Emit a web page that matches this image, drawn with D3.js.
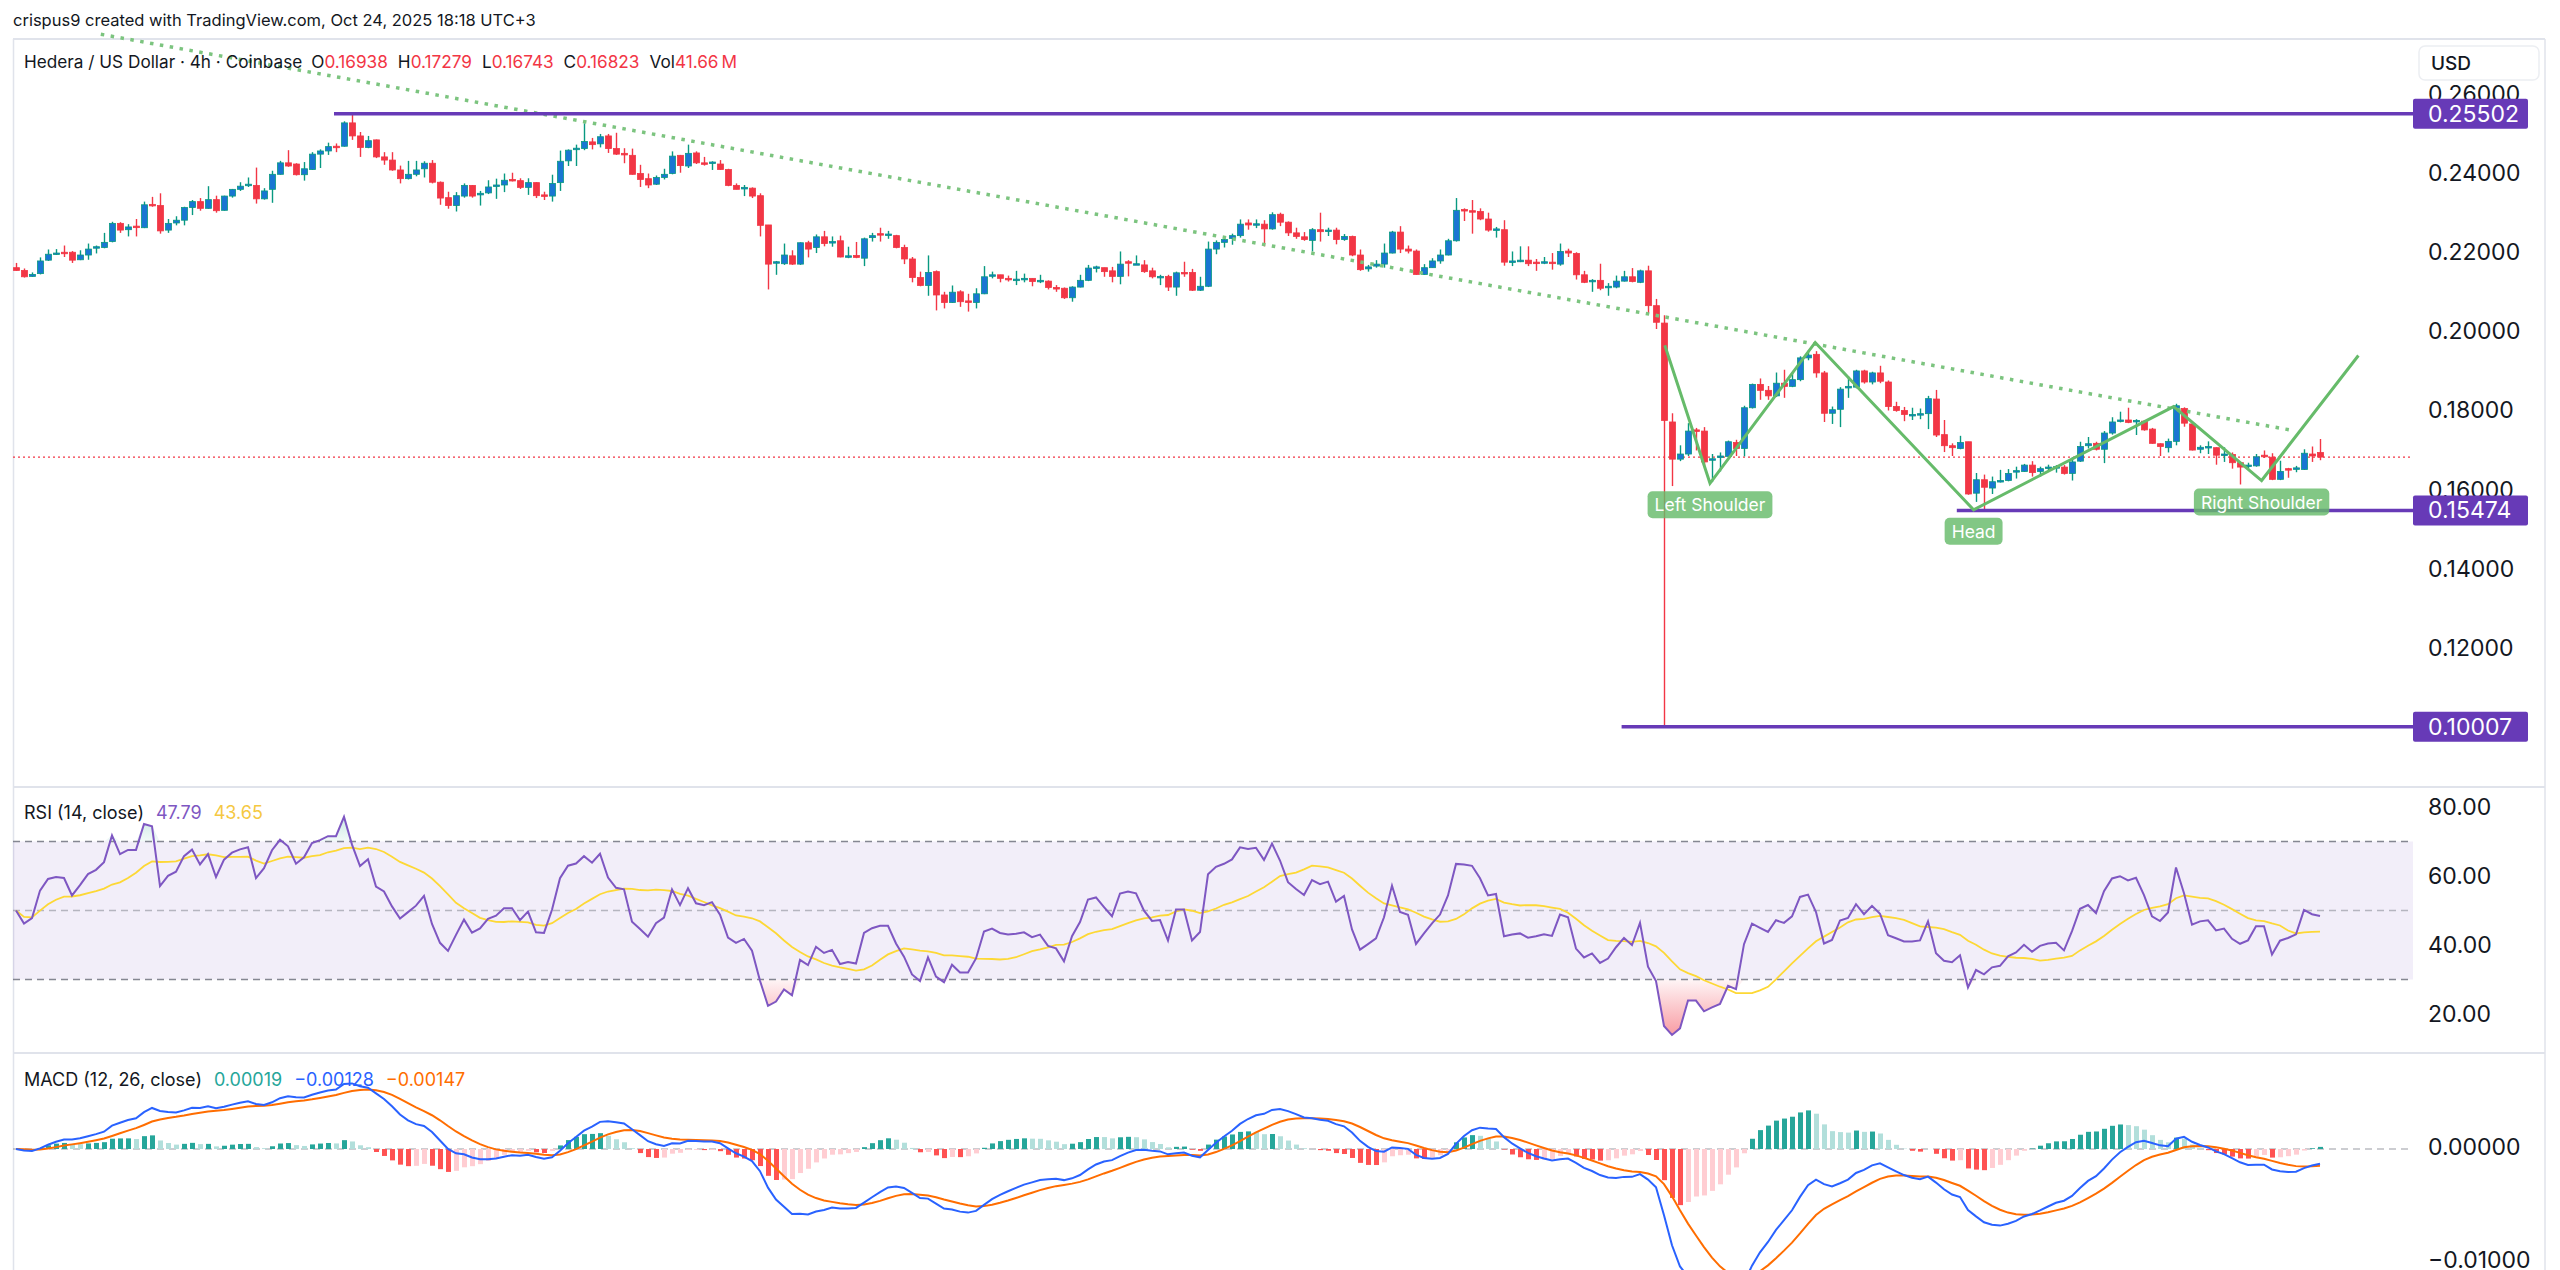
<!DOCTYPE html>
<html>
<head>
<meta charset="utf-8">
<script src="https://cdn.jsdelivr.net/npm/d3@7"></script>
<style>
  body { margin: 0; background: #fff; }
  svg { display: block; font-family: Inter, "Noto Sans", sans-serif; }
</style>
</head>
<body>
<div id="chart"></div>
<script>
var width = 2560;
var height = 1270;

// 4h candles, HBAR/USD (Coinbase)
var opens = [.2161,.2154,.2139,.2146,.2180,.2195,.2200,.2200,.2181,.2193,.2212,.2212,.2227,.2273,.2257,.2266,.2262,.2321,.2318,.2256,
  .2274,.2281,.2313,.2328,.2311,.2333,.2306,.2342,.2359,.2370,.2369,.2335,.2359,.2397,.2426,.2423,.2396,.2409,.2448,.2456,
  .2468,.2468,.2527,.2494,.2465,.2484,.2441,.2433,.2408,.2386,.2397,.2411,.2425,.2377,.2338,.2318,.2342,.2369,.2345,.2350,
  .2367,.2370,.2384,.2381,.2364,.2376,.2345,.2342,.2376,.2431,.2462,.2462,.2479,.2474,.2494,.2462,.2450,.2445,.2399,.2386,
  .2372,.2389,.2399,.2445,.2418,.2451,.2426,.2426,.2423,.2409,.2369,.2360,.2362,.2343,.2269,.2173,.2171,.2191,.2170,.2224,
  .2212,.2239,.2225,.2229,.2190,.2192,.2185,.2237,.2247,.2244,.2242,.2212,.2183,.2136,.2116,.2151,.2092,.2073,.2100,.2077,
  .2073,.2095,.2141,.2143,.2134,.2129,.2131,.2134,.2127,.2127,.2111,.2109,.2085,.2112,.2129,.2160,.2161,.2153,.2139,.2176,
  .2170,.2168,.2153,.2138,.2139,.2112,.2149,.2149,.2104,.2114,.2208,.2225,.2235,.2242,.2274,.2271,.2271,.2259,.2296,.2276,
  .2249,.2239,.2230,.2257,.2254,.2256,.2232,.2240,.2193,.2158,.2165,.2170,.2198,.2251,.2208,.2203,.2144,.2161,.2178,.2193,
  .2229,.2308,.2305,.2303,.2284,.2257,.2257,.2176,.2176,.2180,.2175,.2173,.2175,.2170,.2203,.2197,.2143,.2127,.2129,.2111,
  .2112,.2127,.2138,.2124,.2153,.2065,.2021,.1771,.1677,.1690,.1751,.1748,.1675,.1682,.1684,.1719,.1704,.1807,.1866,.1851,
  .1837,.1869,.1861,.1878,.1933,.1942,.1895,.1793,.1803,.1857,.1859,.1900,.1872,.1895,.1872,.1810,.1800,.1788,.1790,.1792,
  .1829,.1739,.1711,.1704,.1721,.1591,.1625,.1604,.1621,.1623,.1645,.1646,.1662,.1646,.1655,.1657,.1657,.1641,.1672,.1711,
  .1717,.1702,.1743,.1773,.1776,.1773,.1773,.1753,.1716,.1706,.1722,.1805,.1766,.1702,.1707,.1706,.1687,.1689,.1668,.1660,
  .1660,.1687,.1682,.1626,.1653,.1653,.1651,.1690,.16938];
var highs = [.2173,.2159,.2149,.2187,.2207,.2208,.2217,.2203,.2205,.2222,.2217,.2249,.2277,.2276,.2271,.2284,.2328,.2340,.2349,.2284,
  .2291,.2315,.2332,.2337,.2367,.2343,.2343,.2360,.2377,.2389,.2414,.2362,.2406,.2431,.2458,.2425,.2428,.2453,.2460,.2477,
  .2475,.2531,.25502,.2504,.2494,.2485,.2453,.2453,.2419,.2431,.2431,.2430,.2433,.2379,.2353,.2352,.2374,.2370,.2355,.2382,
  .2386,.2399,.2401,.2387,.2387,.2377,.2353,.2396,.2457,.2460,.2472,.2526,.2489,.2499,.2499,.2502,.2463,.2462,.2421,.2399,
  .2394,.2411,.2455,.2446,.2472,.2455,.2441,.2430,.2433,.2411,.2374,.2370,.2364,.2349,.2269,.2178,.2222,.2205,.2225,.2229,
  .2245,.2254,.2240,.2242,.2214,.2226,.2237,.2249,.2262,.2254,.2244,.2219,.2188,.2151,.2192,.2154,.2100,.2116,.2104,.2095,
  .2109,.2165,.2151,.2143,.2141,.2153,.2146,.2134,.2143,.2129,.2117,.2111,.2114,.2143,.2168,.2166,.2161,.2163,.2202,.2180,
  .2192,.2180,.2161,.2143,.2143,.2151,.2176,.2158,.2138,.2227,.2230,.2239,.2247,.2283,.2283,.2283,.2281,.2301,.2300,.2278,
  .2262,.2251,.2261,.2300,.2262,.2262,.2246,.2242,.2207,.2168,.2180,.2222,.2254,.2266,.2217,.2207,.2170,.2185,.2207,.2234,
  .2337,.2311,.2332,.2311,.2300,.2264,.2281,.2202,.2215,.2215,.2183,.2188,.2198,.2222,.2209,.2200,.2153,.2132,.2171,.2122,
  .2141,.2153,.2160,.2156,.2166,.2082,.2041,.1793,.1712,.1768,.1756,.1758,.1690,.1694,.1724,.1726,.1812,.1868,.1881,.1862,
  .1896,.1903,.1896,.1937,.1952,.1950,.1900,.1810,.1859,.1886,.1903,.1903,.1898,.1913,.1876,.1822,.1809,.1807,.1805,.1837,
  .1852,.1776,.1717,.1736,.1721,.1642,.1638,.1633,.1650,.1652,.1658,.1665,.1672,.1658,.1663,.1662,.1662,.1682,.1721,.1733,
  .1721,.1748,.1783,.1797,.1807,.1778,.1776,.1756,.1717,.1729,.1817,.1808,.1770,.1712,.1722,.1707,.1707,.1694,.1670,.1668,
  .1690,.1699,.1692,.1673,.1655,.1660,.1702,.1709,.17279];
var lows = [.2153,.2136,.2138,.2144,.2178,.2193,.2188,.2173,.2180,.2181,.2197,.2210,.2225,.2249,.2240,.2240,.2261,.2315,.2247,.2249,
  .2268,.2268,.2294,.2305,.2310,.2300,.2305,.2338,.2355,.2365,.2323,.2333,.2325,.2396,.2416,.2394,.2381,.2408,.2413,.2446,
  .2453,.2467,.2484,.2441,.2463,.2438,.2421,.2406,.2374,.2384,.2392,.2389,.2374,.2320,.2310,.2303,.2338,.2338,.2318,.2347,
  .2335,.2352,.2379,.2360,.2345,.2337,.2332,.2328,.2355,.2418,.2418,.2458,.2460,.2465,.2451,.2446,.2425,.2396,.2365,.2362,
  .2370,.2384,.2397,.2401,.2413,.2423,.2419,.2408,.2408,.2367,.2359,.2342,.2337,.2240,.2106,.2143,.2168,.2168,.2168,.2187,
  .2198,.2215,.2214,.2187,.2185,.2185,.2165,.2227,.2227,.2234,.2210,.2170,.2124,.2114,.2090,.2053,.2058,.2072,.2062,.2050,
  .2058,.2094,.2134,.2124,.2126,.2117,.2124,.2114,.2122,.2106,.2100,.2082,.2075,.2111,.2127,.2149,.2138,.2124,.2119,.2139,
  .2168,.2148,.2134,.2117,.2102,.2090,.2138,.2102,.2102,.2112,.2195,.2212,.2219,.2237,.2257,.2261,.2215,.2257,.2266,.2241,
  .2234,.2229,.2202,.2227,.2241,.2220,.2229,.2190,.2153,.2151,.2161,.2161,.2197,.2198,.2197,.2143,.2143,.2161,.2171,.2192,
  .2227,.2279,.2247,.2281,.2252,.2237,.2166,.2165,.2175,.2165,.2153,.2170,.2156,.2166,.2188,.2131,.2122,.2100,.2104,.2090,
  .2109,.2126,.2124,.2122,.2046,.2006,.10007,.1609,.1672,.1685,.1699,.1657,.1619,.1646,.1682,.1685,.1684,.1805,.1827,.1827,
  .1834,.1832,.1859,.1874,.1927,.1883,.1771,.1766,.1758,.1832,.1856,.1868,.1866,.1869,.1800,.1797,.1773,.1776,.1778,.1753,
  .1733,.1695,.1685,.1702,.1587,.1569,.15474,.1589,.1618,.1621,.1628,.1645,.1633,.1633,.1646,.1643,.1638,.1623,.1670,.1704,
  .1699,.1667,.1739,.1770,.1768,.1738,.1749,.1716,.1685,.1694,.1712,.1759,.1699,.1692,.1690,.1663,.1670,.1653,.1613,.1653,
  .1658,.1680,.1624,.1624,.1630,.1644,.1650,.1670,.16743];
var closes = [.2154,.2138,.2144,.2178,.2195,.2198,.2197,.2180,.2193,.2208,.2214,.2225,.2273,.2256,.2264,.2264,.2320,.2318,.2254,.2273,
  .2281,.2313,.2328,.2311,.2333,.2305,.2342,.2359,.2367,.2372,.2335,.2355,.2397,.2426,.2418,.2396,.2411,.2448,.2456,.2467,
  .2467,.2527,.2494,.2465,.2482,.2441,.2433,.2408,.2386,.2397,.2408,.2425,.2377,.2337,.2318,.2343,.2369,.2342,.2349,.2365,
  .2370,.2382,.2382,.2364,.2376,.2343,.2342,.2374,.2430,.2458,.2463,.2480,.2472,.2492,.2462,.2448,.2446,.2397,.2384,.2370,
  .2389,.2397,.2443,.2419,.2450,.2426,.2423,.2428,.2409,.2369,.2359,.2364,.2342,.2268,.2170,.2176,.2193,.2170,.2224,.2208,
  .2239,.2222,.2227,.2188,.2191,.2187,.2234,.2242,.2246,.2246,.2212,.2183,.2136,.2116,.2149,.2092,.2073,.2099,.2075,.2075,
  .2095,.2138,.2143,.2134,.2131,.2132,.2134,.2126,.2129,.2111,.2107,.2085,.2112,.2129,.2160,.2163,.2151,.2139,.2170,.2173,
  .2171,.2151,.2138,.2139,.2112,.2148,.2148,.2104,.2114,.2208,.2225,.2232,.2242,.2271,.2269,.2272,.2259,.2295,.2276,.2249,
  .2240,.2232,.2257,.2252,.2256,.2232,.2240,.2193,.2156,.2163,.2170,.2198,.2251,.2208,.2203,.2144,.2161,.2178,.2193,.2229,
  .2306,.2305,.2303,.2284,.2256,.2259,.2175,.2178,.2180,.2171,.2173,.2176,.2173,.2202,.2198,.2143,.2124,.2129,.2109,.2114,
  .2127,.2138,.2126,.2153,.2065,.2023,.1775,.1677,.1690,.1748,.1748,.1670,.1678,.1685,.1721,.1704,.1807,.1866,.1851,.1837,
  .1869,.1861,.1878,.1933,.1940,.1895,.1793,.1802,.1854,.1861,.1900,.1872,.1895,.1874,.1810,.1800,.1790,.1790,.1792,.1830,
  .1738,.1711,.1706,.1719,.1589,.1625,.1606,.1620,.1623,.1641,.1648,.1662,.1643,.1653,.1657,.1658,.1641,.1670,.1709,.1716,
  .1702,.1743,.1771,.1776,.1770,.1775,.1751,.1717,.1709,.1722,.1812,.1768,.1700,.1707,.1709,.1687,.1690,.1668,.1657,.1662,
  .1683,.1683,.1626,.1646,.1650,.1655,.1692,.1685,.16823];

// horizontal levels and where they start (candle index)
var levelPrices = [0.25502, 0.15474, 0.10007];
var levelStarts = [39.75, 242.6, 200.7];
// dotted descending trendline
var trendIdx = [10.6, 284.75];
var trendPrice = [0.2751, 0.1749];
// head & shoulders zigzag
var patternIdx = [206.1, 211.75, 224.9, 244.7, 269.7, 280.7, 292.8];
var patternPrice = [0.1965, 0.1616, 0.1972, 0.1549, 0.1810, 0.1623, 0.1939];
var patternLabels = ["Left Shoulder", "Head", "Right Shoulder"];
var patternLabelVertex = [1, 3, 5];
var lastPrice = 0.16823;

var priceTicks = [0.26, 0.24, 0.22, 0.20, 0.18, 0.16, 0.14, 0.12];
var rsiTicks = [80, 60, 40, 20];
var macdTicks = [0, -0.01];

var upColor = '#1976d2', upWick = '#089981', downColor = '#f23645';
var purple = '#673ab7';
var gridColor = '#e0e3eb';
var textColor = '#131722';

var left = 13, plotRight = 2413, frameRight = 2545;
var mainTop = 39, mainBottom = 787, rsiBottom = 1053, macdBottom = 1270;

var svg = d3.select("#chart").append("svg")
      .attr("width", width)
      .attr("height", height);

svg.append("rect").attr("width", width).attr("height", height).attr("fill", "#fff");

// scales
var xScale = d3.scaleLinear().domain([0, 288]).range([16, 2320]);
var yPrice = d3.scaleLinear().domain([0.10, 0.26]).range([727, 94]);
var yRsi = d3.scaleLinear().domain([20, 80]).range([1014, 807]);
var yMacd = d3.scaleLinear().domain([-0.01, 0]).range([1262, 1149]);

// clip paths for the panes
var defs = svg.append("defs");
function addClip(id, y0, y1) {
  defs.append("clipPath").attr("id", id).append("rect")
      .attr("x", left).attr("y", y0).attr("width", plotRight - left).attr("height", y1 - y0);
}
addClip("clipMain", 28, mainBottom);
addClip("clipRsi", mainBottom, rsiBottom);
addClip("clipMacd", rsiBottom, macdBottom);

// frame + pane separators
svg.append("line").attr("x1", left + 0.5).attr("x2", left + 0.5).attr("y1", mainTop).attr("y2", height)
      .attr("stroke", gridColor).attr("stroke-width", 1.5);
svg.append("line").attr("x1", frameRight).attr("x2", frameRight).attr("y1", mainTop).attr("y2", height)
      .attr("stroke", gridColor).attr("stroke-width", 1.5);
[mainTop, mainBottom, rsiBottom].forEach(function(y) {
  svg.append("line").attr("x1", left).attr("x2", frameRight).attr("y1", y).attr("y2", y)
      .attr("stroke", gridColor).attr("stroke-width", 2);
});

// ---------- indicators ----------
var n = 14;
var changes = closes.map((c, i) => i ? c - closes[i - 1] : 0);
var seed = d3.mean(changes.slice(1, n + 1), Math.abs) / 2;
var avgGain = seed, avgLoss = seed;
var rsi = closes.map(function(c, i) {
  if (i > 0) {
    avgGain = (avgGain * (n - 1) + Math.max(changes[i], 0)) / n;
    avgLoss = (avgLoss * (n - 1) + Math.max(-changes[i], 0)) / n;
  }
  return 100 - 100 / (1 + avgGain / avgLoss);
});
var rsiMa = rsi.map((v, i) => d3.mean(rsi.slice(Math.max(0, i - n + 1), i + 1)));

function ema(values, len) {
  var k = 2 / (len + 1), prev = values[0];
  return values.map(function(v) { prev = prev + k * (v - prev); return prev; });
}
var ema12 = ema(closes, 12), ema26 = ema(closes, 26);
var macd = ema12.map((v, i) => v - ema26[i]);
var signal = ema(macd, 9);
var hist = macd.map((v, i) => v - signal[i]);

// ---------- main pane ----------
var main = svg.append("g").attr("clip-path", "url(#clipMain)");

// last price dotted line
main.append("line")
      .attr("x1", left).attr("x2", plotRight)
      .attr("y1", yPrice(lastPrice)).attr("y2", yPrice(lastPrice))
      .attr("stroke", downColor).attr("stroke-width", 1.2).attr("stroke-dasharray", "2,3");

var candles = d3.range(closes.length);
var cg = main.append("g");
cg.selectAll("line.wick")
      .data(candles)
  .enter().append("line")
      .attr("class", "wick")
      .attr("x1", i => Math.round(xScale(i)) + 0.5)
      .attr("x2", i => Math.round(xScale(i)) + 0.5)
      .attr("y1", i => yPrice(highs[i]))
      .attr("y2", i => yPrice(lows[i]))
      .attr("stroke", i => closes[i] >= opens[i] ? upWick : downColor)
      .attr("stroke-width", 1.4);
cg.selectAll("rect.body")
      .data(candles)
  .enter().append("rect")
      .attr("class", "body")
      .attr("x", i => Math.round(xScale(i)) - 2.5)
      .attr("width", 6)
      .attr("y", i => yPrice(Math.max(opens[i], closes[i])))
      .attr("height", i => Math.max(1.5, Math.abs(yPrice(opens[i]) - yPrice(closes[i]))))
      .attr("fill", i => closes[i] >= opens[i] ? upColor : downColor)
      .attr("stroke", i => closes[i] >= opens[i] ? upWick : downColor)
      .attr("stroke-width", 0.8);

// dotted trendline
main.append("line")
      .attr("x1", xScale(trendIdx[0])).attr("y1", yPrice(trendPrice[0]))
      .attr("x2", xScale(trendIdx[1])).attr("y2", yPrice(trendPrice[1]))
      .attr("stroke", "#7cc47f").attr("stroke-width", 3.5).attr("stroke-dasharray", "3.5,6.5");

// horizontal levels
levelPrices.forEach(function(p, k) {
  main.append("line")
      .attr("x1", xScale(levelStarts[k])).attr("x2", plotRight)
      .attr("y1", yPrice(p)).attr("y2", yPrice(p))
      .attr("stroke", purple).attr("stroke-width", 3.5);
});

// H&S zigzag
var zig = d3.line().x(d => xScale(d[0])).y(d => yPrice(d[1]));
main.append("path")
      .attr("d", zig(patternIdx.map((d, k) => [d, patternPrice[k]])))
      .attr("fill", "none").attr("stroke", "#66bb6a").attr("stroke-width", 3)
      .attr("stroke-linejoin", "miter");

// pattern labels
patternLabels.forEach(function(txt, k) {
  var v = patternLabelVertex[k];
  var cx = xScale(patternIdx[v]);
  var top = yPrice(patternPrice[v]) + 8;
  var g = main.append("g");
  var t = g.append("text")
      .attr("x", cx).attr("y", top + 14)
      .attr("dy", "0.35em")
      .attr("text-anchor", "middle")
      .attr("fill", "#fff")
      .style("font-size", "17.5px")
      .text(txt);
  var w = t.node().getComputedTextLength() + 14;
  g.insert("rect", "text")
      .attr("x", cx - w / 2).attr("y", top)
      .attr("width", w).attr("height", 27)
      .attr("rx", 5)
      .attr("fill", "#66bb6a").attr("fill-opacity", 0.82);
});

// ---------- RSI pane ----------
var rp = svg.append("g").attr("clip-path", "url(#clipRsi)");
rp.append("rect")
      .attr("x", left).attr("width", plotRight - left)
      .attr("y", yRsi(70)).attr("height", yRsi(30) - yRsi(70))
      .attr("fill", "rgba(126,87,194,0.1)");

var grad = defs.append("linearGradient").attr("id", "osGrad")
      .attr("gradientUnits", "userSpaceOnUse")
      .attr("x1", 0).attr("x2", 0).attr("y1", yRsi(30)).attr("y2", yRsi(10));
grad.append("stop").attr("offset", 0).attr("stop-color", "#f23645").attr("stop-opacity", 0.05);
grad.append("stop").attr("offset", 1).attr("stop-color", "#f23645").attr("stop-opacity", 0.6);
var gradOb = defs.append("linearGradient").attr("id", "obGrad")
      .attr("gradientUnits", "userSpaceOnUse")
      .attr("x1", 0).attr("x2", 0).attr("y1", yRsi(70)).attr("y2", yRsi(90));
gradOb.append("stop").attr("offset", 0).attr("stop-color", "#089981").attr("stop-opacity", 0.05);
gradOb.append("stop").attr("offset", 1).attr("stop-color", "#089981").attr("stop-opacity", 0.5);

rp.append("path")
      .attr("d", d3.area().x((d, i) => xScale(i)).y0(yRsi(30)).y1(d => yRsi(Math.min(d, 30)))(rsi))
      .attr("fill", "url(#osGrad)");
rp.append("path")
      .attr("d", d3.area().x((d, i) => xScale(i)).y0(yRsi(70)).y1(d => yRsi(Math.max(d, 70)))(rsi))
      .attr("fill", "url(#obGrad)");

[70, 50, 30].forEach(function(v) {
  rp.append("line")
      .attr("x1", left).attr("x2", plotRight)
      .attr("y1", yRsi(v)).attr("y2", yRsi(v))
      .attr("stroke", "#787b86").attr("stroke-opacity", v === 50 ? 0.5 : 0.9)
      .attr("stroke-width", 1.5).attr("stroke-dasharray", "7,5");
});

var rsiLine = d3.line().x((d, i) => xScale(i)).y(d => yRsi(d));
rp.append("path").attr("d", rsiLine(rsiMa))
      .attr("fill", "none").attr("stroke", "#fdd835").attr("stroke-width", 1.8);
rp.append("path").attr("d", rsiLine(rsi))
      .attr("fill", "none").attr("stroke", "#7e57c2").attr("stroke-width", 2);

// ---------- MACD pane ----------
var mp = svg.append("g").attr("clip-path", "url(#clipMacd)");
mp.append("line")
      .attr("x1", left).attr("x2", plotRight)
      .attr("y1", yMacd(0)).attr("y2", yMacd(0))
      .attr("stroke", "#787b86").attr("stroke-opacity", 0.5)
      .attr("stroke-width", 1.5).attr("stroke-dasharray", "7,5");

mp.selectAll("rect.hist")
      .data(hist)
  .enter().append("rect")
      .attr("class", "hist")
      .attr("x", (d, i) => Math.round(xScale(i)) - 2)
      .attr("width", 5)
      .attr("y", d => Math.min(yMacd(0), yMacd(d)))
      .attr("height", d => Math.abs(yMacd(d) - yMacd(0)))
      .attr("fill", function(d, i) {
        var prev = i ? hist[i - 1] : 0;
        if (d >= 0) return d > prev ? "#26a69a" : "#b2dfdb";
        return d < prev ? "#ff5252" : "#ffcdd2";
      });

var macdLine = d3.line().x((d, i) => xScale(i)).y(d => yMacd(d));
mp.append("path").attr("d", macdLine(signal))
      .attr("fill", "none").attr("stroke", "#ff6d00").attr("stroke-width", 2);
mp.append("path").attr("d", macdLine(macd))
      .attr("fill", "none").attr("stroke", "#2962ff").attr("stroke-width", 2);

// ---------- right scales ----------
function styleAxis(g) {
  g.select(".domain").remove();
  g.selectAll("text").attr("fill", textColor).style("font-size", "23px").style("font-family", "Inter, sans-serif");
}
svg.append("g")
      .attr("transform", "translate(" + (plotRight + 15) + ",0)")
      .call(d3.axisRight(yPrice).tickValues(priceTicks).tickSize(0).tickPadding(0).tickFormat(d3.format(".5f")))
      .call(styleAxis);
svg.append("g")
      .attr("transform", "translate(" + (plotRight + 15) + ",0)")
      .call(d3.axisRight(yRsi).tickValues(rsiTicks).tickSize(0).tickPadding(0).tickFormat(d3.format(".2f")))
      .call(styleAxis);
svg.append("g")
      .attr("transform", "translate(" + (plotRight + 15) + ",-2)")
      .call(d3.axisRight(yMacd).tickValues(macdTicks).tickSize(0).tickPadding(0).tickFormat(d3.format(".5f")))
      .call(styleAxis);

// level labels on the price scale
levelPrices.forEach(function(p) {
  svg.append("rect")
      .attr("x", plotRight).attr("y", yPrice(p) - 15)
      .attr("width", 115).attr("height", 30)
      .attr("rx", 2)
      .attr("fill", purple);
  svg.append("text")
      .attr("x", plotRight + 15).attr("y", yPrice(p))
      .attr("dy", "0.35em")
      .attr("fill", "#fff")
      .style("font-size", "23px")
      .text(d3.format(".5f")(p));
});

// currency box
svg.append("rect")
      .attr("x", 2419).attr("y", 46).attr("width", 120).attr("height", 34)
      .attr("rx", 6).attr("fill", "#fff").attr("stroke", "#eceef2").attr("stroke-width", 1.5);
svg.append("text")
      .attr("x", 2431).attr("y", 63).attr("dy", "0.35em")
      .attr("fill", textColor).style("font-size", "19px").style("font-weight", 500)
      .text("USD");

// ---------- headers ----------
svg.append("text")
      .attr("x", 13).attr("y", 20).attr("dy", "0.35em")
      .attr("fill", textColor).style("font-size", "16.5px")
      .text("crispus9 created with TradingView.com, Oct 24, 2025 18:18 UTC+3");

function legend(y, size, parts) {
  var t = svg.append("text").attr("x", 24).attr("y", y).attr("dy", "0.35em").style("font-size", size);
  parts.forEach(function(p) {
    t.append("tspan").attr("fill", p[1]).attr("dx", p[2] || 0).text(p[0]);
  });
}
var red = '#f23645';
legend(62, "17.2px", [["Hedera / US Dollar · 4h · Coinbase", textColor], ["O", textColor, 9], ["0.16938", red],
  ["H", textColor, 10], ["0.17279", red], ["L", textColor, 10], ["0.16743", red],
  ["C", textColor, 10], ["0.16823", red], ["Vol", textColor, 10], ["41.66", red], ["M", red, 3]]);
legend(813, "18px", [["RSI (14, close)", textColor], ["47.79", "#7e57c2", 12], ["43.65", "#f5c842", 12]]);
legend(1080, "18px", [["MACD (12, 26, close)", textColor], ["0.00019", "#26a69a", 12], ["\u22120.00128", "#2962ff", 12],
  ["\u22120.00147", "#ff6d00", 12]]);
</script>
</body>
</html>
